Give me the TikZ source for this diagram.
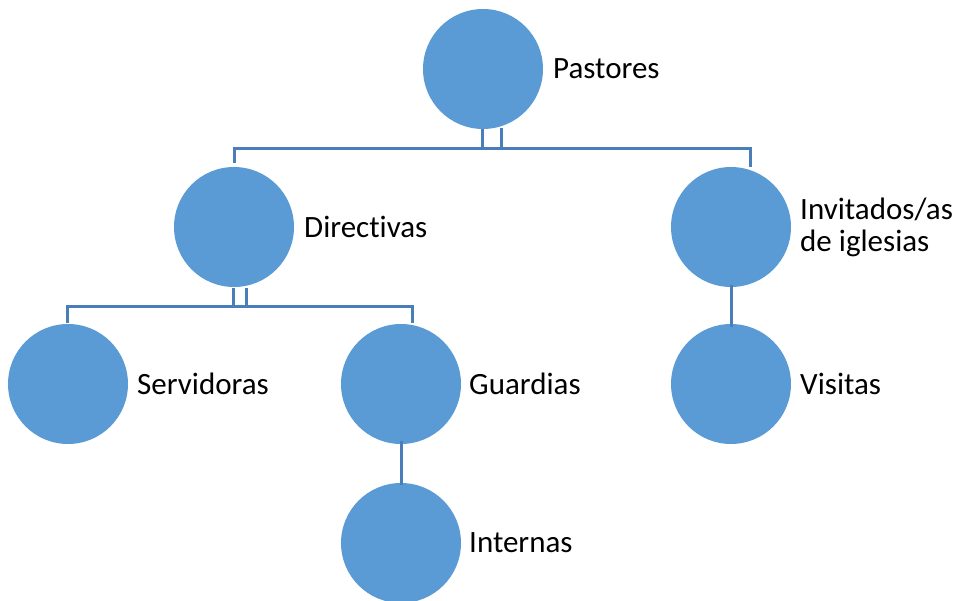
\documentclass[tikz,border=0pt]{standalone}
\usepackage{fontspec}
\setmainfont{Carlito}[Ligatures={NoCommon}]
\definecolor{fillblue}{HTML}{5B9BD5}
\definecolor{lineblue}{HTML}{4A7EBB}
\begin{document}
\begin{tikzpicture}[x=1pt,y=-1pt,
  orgcircle/.style={circle,fill=fillblue,minimum size=120pt,inner sep=0pt},
  lbl/.style={anchor=west,font=\fontsize{31}{32}\selectfont,inner sep=0pt,align=left},
  conn/.style={draw=lineblue,line width=3pt}]
\useasboundingbox (0,0) rectangle (958,601);
\node[orgcircle] (pas) at (483,69) {};
\node[orgcircle] (dir) at (234,227) {};
\node[orgcircle] (inv) at (731,227) {};
\node[orgcircle] (ser) at (68,384) {};
\node[orgcircle] (gua) at (401,384) {};
\node[orgcircle] (vis) at (731,384) {};
\node[orgcircle] (int) at (401,543) {};
\node[lbl] (tpas) at (553,69) {Pastores};
\node[lbl] (tdir) at (304,227) {Directivas};
\node[lbl] (tinv) at (800,227) {Invitados/as\\de iglesias};
\node[lbl] (tser) at (137,384) {Servidoras};
\node[lbl] (tgua) at (469,384) {Guardias};
\node[lbl] (tvis) at (800,384) {Visitas};
\node[lbl] (tint) at (469,543) {Internas};
% top level
\coordinate (pl) at (482,129);
\coordinate (pr) at (501,128);
\coordinate (bl) at (234,149);
\coordinate (br) at (750,149);
\coordinate (dl) at (234,163);
\coordinate (dr) at (750,167);
\draw[conn] (pl) |- (pr |- bl) -- (pr);
\draw[conn] (dl) -- (bl) -- (br) -- (dr);
% second level
\coordinate (ql) at (233,288);
\coordinate (qr) at (246,288);
\coordinate (cl) at (67,307);
\coordinate (cr) at (412,307);
\coordinate (el) at (67,323);
\coordinate (er) at (412,323);
\draw[conn] (ql) |- (qr |- cl) -- (qr);
\draw[conn] (el) -- (cl) -- (cr) -- (er);
% single links
\draw[conn] ([yshift=2pt]inv.south) -- ([yshift=-3pt]vis.north);
\draw[conn] ([yshift=3pt]gua.south) -- ([yshift=-2pt]int.north);
\end{tikzpicture}
\end{document}
